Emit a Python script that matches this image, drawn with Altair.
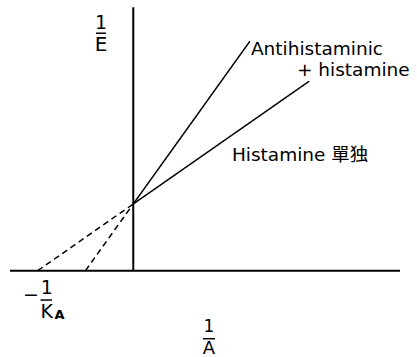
import altair as alt
import pandas as pd

# Double-reciprocal plot: 1/E against 1/A
# Histamine alone
hist_x = [-1.0, 0.0, 1.84]
hist_y = [0.0, 1.0, 2.84]
# Antihistaminic + histamine (competitive: same 1/E intercept, steeper slope)
anti_x = [-0.5, 0.0, 1.22]
anti_y = [0.0, 1.0, 3.44]

# Extents of the drawn coordinate axes
x_axis_span = [-1.29, 2.79]
y_axis_span = [0.0, 3.95]

# Visible plotting window
x_domain = [-1.394, 2.968]
y_domain = [-1.294, 4.058]

FONT = "DejaVu Sans, Noto Sans CJK JP, sans-serif"

rows = []
for name, xs, ys in [("hist", hist_x, hist_y), ("anti", anti_x, anti_y)]:
    for seg, idx in [("dashed", (0, 1)), ("solid", (1, 2))]:
        for i in idx:
            rows.append({"x": xs[i], "y": ys[i], "seg": f"{name}-{seg}", "style": seg})
lines_df = pd.DataFrame(rows)

xs = alt.Scale(domain=x_domain, nice=False, zero=False)
ys = alt.Scale(domain=y_domain, nice=False, zero=False)

lines = alt.Chart(lines_df).mark_line(color="black", strokeWidth=1.5).encode(
    x=alt.X("x:Q", scale=xs, axis=None),
    y=alt.Y("y:Q", scale=ys, axis=None),
    detail="seg:N",
    strokeDash=alt.StrokeDash(
        "style:N",
        scale=alt.Scale(domain=["solid", "dashed"], range=[[1, 0], [6, 4]]),
        legend=None,
    ),
)

axes_df = pd.DataFrame({
    "x": [x_axis_span[0], 0.0],
    "x2": [x_axis_span[1], 0.0],
    "y": [0.0, y_axis_span[0]],
    "y2": [0.0, y_axis_span[1]],
})
axes = alt.Chart(axes_df).mark_rule(color="black", strokeWidth=2).encode(
    x=alt.X("x:Q", scale=xs, axis=None),
    x2="x2:Q",
    y=alt.Y("y:Q", scale=ys, axis=None),
    y2="y2:Q",
)

# Fraction-style axis labels: numerator, bar, denominator
frac_text = pd.DataFrame([
    {"t": "1", "x": -0.338, "y": 3.71, "s": 19},
    {"t": "E", "x": -0.338, "y": 3.38, "s": 20},
    {"t": "−", "x": -1.07, "y": -0.36, "s": 19},
    {"t": "1", "x": -0.905, "y": -0.26, "s": 19},
    {"t": "K", "x": -0.905, "y": -0.62, "s": 19},
    {"t": "1", "x": 0.792, "y": -0.85, "s": 17},
    {"t": "A", "x": 0.792, "y": -1.17, "s": 18},
])
frac = alt.Chart(frac_text).mark_text(font=FONT, color="black", align="center", baseline="middle").encode(
    x=alt.X("x:Q", scale=xs, axis=None),
    y=alt.Y("y:Q", scale=ys, axis=None),
    text="t:N",
    size=alt.Size("s:Q", scale=None, legend=None),
)
sub = alt.Chart(pd.DataFrame([{"t": "A", "x": -0.77, "y": -0.66}])).mark_text(
    font=FONT, fontSize=13, fontWeight="bold", color="black", align="center", baseline="middle"
).encode(
    x=alt.X("x:Q", scale=xs, axis=None),
    y=alt.Y("y:Q", scale=ys, axis=None),
    text="t:N",
)

bars_df = pd.DataFrame({
    "x": [-0.39, -0.97, 0.73],
    "x2": [-0.285, -0.85, 0.855],
    "y": [3.56, -0.44, -1.02],
})
bars = alt.Chart(bars_df).mark_rule(color="black", strokeWidth=1.5).encode(
    x=alt.X("x:Q", scale=xs, axis=None),
    x2="x2:Q",
    y=alt.Y("y:Q", scale=ys, axis=None),
)

# Line labels
labels_df = pd.DataFrame([
    {"t": "Antihistaminic", "x": 1.231, "y": 3.234},
    {"t": "+ histamine", "x": 1.712, "y": 2.919},
    {"t": "Histamine 單独", "x": 1.032, "y": 1.645},
])
labels = alt.Chart(labels_df).mark_text(
    font=FONT, fontSize=18.5, color="black", align="left", baseline="alphabetic"
).encode(
    x=alt.X("x:Q", scale=xs, axis=None),
    y=alt.Y("y:Q", scale=ys, axis=None),
    text="t:N",
)

chart = alt.layer(axes, lines, bars, frac, sub, labels).properties(
    width=417,
    height=357,
    padding=0,
    autosize=alt.AutoSizeParams(type="none"),
    background="white",
).configure_view(stroke=None)

chart.save("out.html", embed_options={"renderer": "svg", "actions": False})
